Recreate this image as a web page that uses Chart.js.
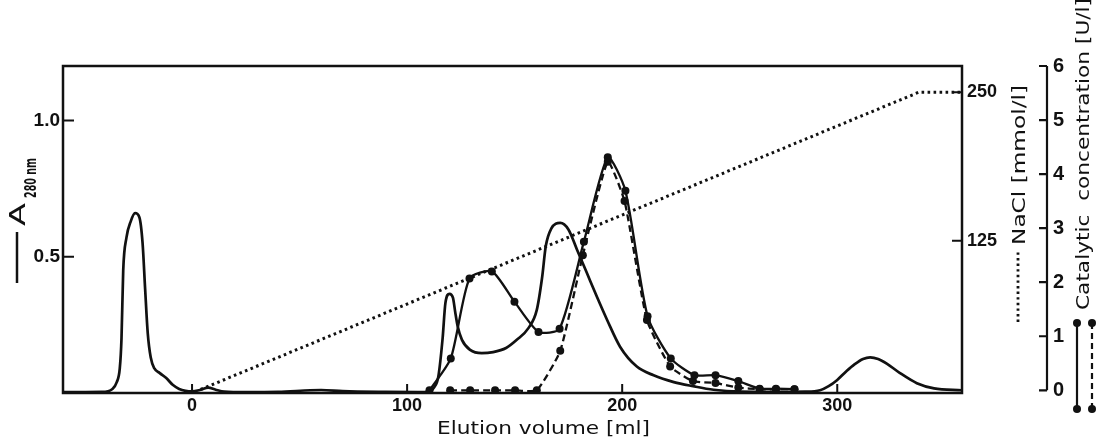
<!DOCTYPE html>
<html><head><meta charset="utf-8">
<script src="https://cdn.jsdelivr.net/npm/chart.js@4.4.0/dist/chart.umd.min.js"></script>
<style>html,body{margin:0;padding:0;background:#fff;}#wrap{width:1097px;height:438px;position:relative;}</style>
</head><body><div id="wrap"><canvas id="c" width="1097" height="438"></canvas></div>
<script>
// ---- data ----
const xTicks = [0, 100, 200, 300];
const absTicks = [0.5, 1.0];
const naclTicks = [125, 250];
const catTicks = [0, 1, 2, 3, 4, 5, 6];

const absVolume = [-60,-42,-37,-35,-33.6,-32.8,-32.0,-30.5,-28.5,-26.5,-24.5,-23.0,-21.8,-20.6,-19.2,-17.5,-15,-12,-9,-6,-3,0,4,7.5,11,15,25,40,55,60,70,90,105,110,112.5,114.5,116.5,117.8,119.7,121.3,122.4,123.5,125.5,129.3,134.7,140,146,151,156.4,160.3,162.7,164.5,167,171.2,175,179,183.6,188.2,193,199,206.8,214.6,224,233,242.5,255,270,285,292,296,300,304,308,312,315.3,319,323,329,337,345,358];
const absValue  = [0.003,0.004,0.015,0.04,0.09,0.2,0.45,0.57,0.63,0.66,0.645,0.55,0.38,0.22,0.13,0.09,0.073,0.055,0.03,0.015,0.008,0.006,0.012,0.02,0.012,0.005,0.003,0.004,0.01,0.011,0.007,0.004,0.003,0.004,0.02,0.06,0.2,0.33,0.364,0.35,0.295,0.245,0.195,0.158,0.146,0.15,0.165,0.195,0.238,0.305,0.42,0.54,0.603,0.624,0.6,0.526,0.44,0.354,0.268,0.17,0.097,0.065,0.04,0.025,0.012,0.005,0.004,0.005,0.01,0.025,0.048,0.078,0.105,0.125,0.131,0.125,0.108,0.074,0.036,0.017,0.01];

const naclVolume = [4, 338, 358];
const naclValue  = [0, 250, 250];

const actSolidVolume = [110.4,120.3,129,139.4,149.9,161.1,170.9,182.2,193.3,201.5,211.8,222.6,233.6,243.4,254,263.9,271.5,280.1];
const actSolidValue  = [0,0.59,2.07,2.2,1.64,1.08,1.14,2.75,4.31,3.69,1.37,0.59,0.28,0.28,0.17,0.03,0.03,0.02];

const actDashVolume = [120,129.3,140.9,150.2,160.3,171.2,181.7,193.3,201.1,211.5,222.3,232.9,243.4,254,263.9,271.5,280.1];
const actDashValue  = [0,0,0,0,0,0.73,2.5,4.23,3.5,1.3,0.44,0.17,0.135,0.05,0.02,0.02,0.02];

const zip = (xs, ys) => xs.map((x, i) => ({x, y: ys[i]}));
const INK = '#111';
const numFont = size => ({family: "'Liberation Sans', Arial, sans-serif", size: size, weight: 'bold'});

function fitText(ctx, text, x, y, width) {
  const w = ctx.measureText(text).width;
  ctx.save();
  ctx.translate(x, y);
  ctx.scale(width / w, 1);
  ctx.fillText(text, 0, 0);
  ctx.restore();
}

const decor = {
  id: 'decor',
  afterDraw(chart) {
    const ctx = chart.ctx, a = chart.chartArea, s = chart.scales;
    ctx.save();
    ctx.strokeStyle = INK; ctx.fillStyle = INK; ctx.lineCap = 'butt';
    // frame
    ctx.lineWidth = 2.5;
    ctx.strokeRect(a.left, a.top, a.right - a.left, a.bottom - a.top);
    // inward ticks
    ctx.lineWidth = 2;
    ctx.beginPath();
    s.x.ticks.forEach(t => { const p = s.x.getPixelForValue(t.value); ctx.moveTo(p, a.bottom); ctx.lineTo(p, a.bottom - 9); });
    s.y.ticks.forEach(t => { const p = s.y.getPixelForValue(t.value); ctx.moveTo(a.left, p); ctx.lineTo(a.left + 11, p); });
    s.y2.ticks.forEach(t => { const p = s.y2.getPixelForValue(t.value); ctx.moveTo(a.right, p); ctx.lineTo(a.right - 10, p); });
    ctx.stroke();
    // catalytic axis
    const cx = s.y3.left;
    ctx.lineWidth = 2.2;
    ctx.beginPath();
    ctx.moveTo(cx, s.y3.getPixelForValue(0)); ctx.lineTo(cx, s.y3.getPixelForValue(6));
    s.y3.ticks.forEach(t => { const p = s.y3.getPixelForValue(t.value); ctx.moveTo(cx, p); ctx.lineTo(cx - 8, p); });
    ctx.stroke();

    // x title
    ctx.font = '17px "DejaVu Sans"';
    ctx.textBaseline = 'alphabetic';
    fitText(ctx, 'Elution volume [ml]', 437, 434, 213);

    // left title: — A280 nm
    ctx.lineWidth = 2.5;
    ctx.beginPath(); ctx.moveTo(17, 232); ctx.lineTo(17, 283); ctx.stroke();
    ctx.save();
    ctx.translate(25, 228); ctx.rotate(-Math.PI / 2);
    ctx.font = '22px "DejaVu Sans"';
    fitText(ctx, 'A', 2, 0, 23);
    ctx.font = 'bold 15px "DejaVu Sans"';
    fitText(ctx, '280 nm', 30, 11, 40);
    ctx.restore();

    // NaCl title
    ctx.save();
    ctx.lineWidth = 2.8; ctx.setLineDash([2.4, 3.2]);
    ctx.beginPath(); ctx.moveTo(1018, 322); ctx.lineTo(1018, 250); ctx.stroke();
    ctx.restore();
    ctx.save();
    ctx.translate(1025, 245); ctx.rotate(-Math.PI / 2);
    ctx.font = '17px "DejaVu Sans"';
    fitText(ctx, 'NaCl [mmol/l]', 0, 0, 160);
    ctx.restore();

    // Catalytic title
    ctx.save();
    ctx.translate(1089, 310); ctx.rotate(-Math.PI / 2);
    ctx.font = '18px "DejaVu Sans"';
    fitText(ctx, 'Catalytic  concentration [U/l]', 0, 0, 312);
    ctx.restore();

    // legend symbols for activity
    ctx.lineWidth = 2.2;
    ctx.beginPath(); ctx.moveTo(1077, 323); ctx.lineTo(1077, 409); ctx.stroke();
    ctx.save(); ctx.setLineDash([6, 4]);
    ctx.beginPath(); ctx.moveTo(1092, 323); ctx.lineTo(1092, 409); ctx.stroke();
    ctx.restore();
    [[1077, 323], [1077, 409], [1092, 323], [1092, 409]].forEach(([x, y]) => {
      ctx.beginPath(); ctx.arc(x, y, 4, 0, Math.PI * 2); ctx.fill();
    });
    ctx.restore();
  }
};

const setTicks = arr => scale => { scale.ticks = arr.map(v => ({value: v})); };
const noGrid = {display: false, drawTicks: false};

new Chart(document.getElementById('c'), {
  type: 'line',
  data: {
    datasets: [
      {data: zip(absVolume, absValue), yAxisID: 'y', borderColor: INK, borderWidth: 2.7, pointRadius: 0, cubicInterpolationMode: 'monotone', fill: false},
      {data: zip(naclVolume, naclValue), yAxisID: 'y2', borderColor: INK, borderWidth: 3, borderDash: [2.6, 3.4], pointRadius: 0, tension: 0, fill: false},
      {data: zip(actSolidVolume, actSolidValue), yAxisID: 'y3', borderColor: INK, borderWidth: 2.3, pointRadius: 4, pointBackgroundColor: INK, pointBorderColor: INK, pointBorderWidth: 0, tension: 0.22, fill: false},
      {data: zip(actDashVolume, actDashValue), yAxisID: 'y3', borderColor: INK, borderWidth: 2.3, borderDash: [7, 4], pointRadius: 4, pointBackgroundColor: INK, pointBorderColor: INK, pointBorderWidth: 0, tension: 0.15, fill: false}
    ]
  },
  options: {
    responsive: false, animation: false, devicePixelRatio: 1,
    layout: {padding: {top: 66, left: 0, right: 0, bottom: 0}},
    plugins: {legend: {display: false}, tooltip: {enabled: false}},
    scales: {
      x: {type: 'linear', min: -60, max: 358, grid: noGrid, border: {display: false},
          afterBuildTicks: setTicks(xTicks), afterFit: s => { s.height = 45; },
          ticks: {font: numFont(18), color: INK, padding: 2, maxRotation: 0, autoSkip: false}},
      y: {position: 'left', min: 0, max: 1.2, grid: noGrid, border: {display: false},
          afterBuildTicks: setTicks(absTicks), afterFit: s => { s.width = 63; },
          ticks: {font: numFont(19), color: INK, padding: 3, callback: v => v.toFixed(1)}},
      y2: {position: 'right', weight: 0, min: -3, max: 272, grid: noGrid, border: {display: false},
          afterBuildTicks: setTicks(naclTicks), afterFit: s => { s.width = 85; },
          ticks: {font: numFont(18), color: INK, padding: 5}},
      y3: {position: 'right', weight: 1, min: -0.05, max: 6, grid: noGrid, border: {display: false},
          afterBuildTicks: setTicks(catTicks), afterFit: s => { s.width = 50; },
          ticks: {font: numFont(20), color: INK, padding: 6}}
    }
  },
  plugins: [decor]
});
</script></body></html>
